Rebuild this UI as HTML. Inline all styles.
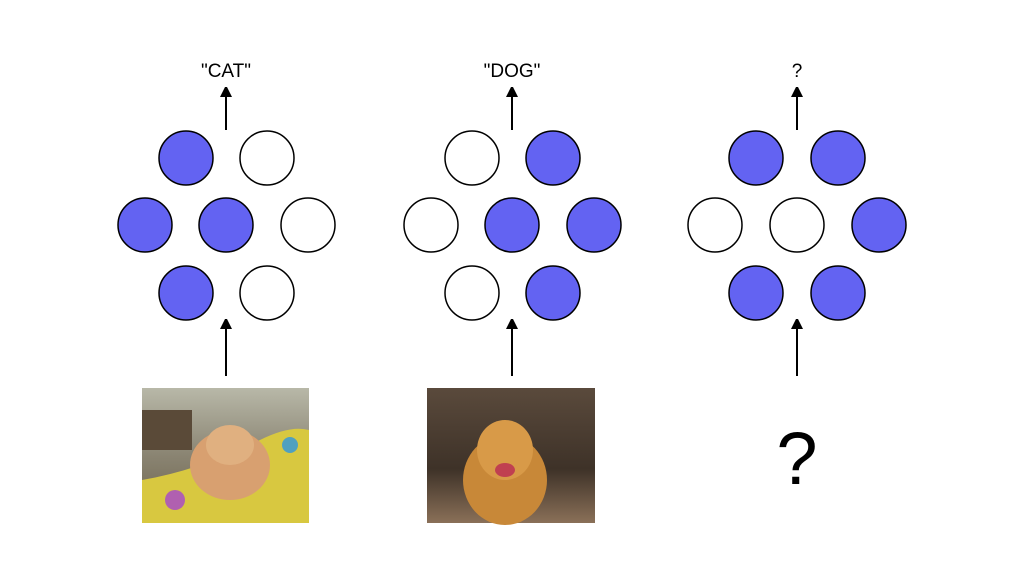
<!DOCTYPE html>
<html><head><style>body{margin:0;background:#fff}</style></head><body>
<svg width="1024" height="576" viewBox="0 0 1024 576" xmlns="http://www.w3.org/2000/svg">
<defs>
<marker id="a" markerWidth="10" markerHeight="12" refX="5" refY="6" orient="auto" markerUnits="userSpaceOnUse"><path d="M0,0 L12,6 L0,12 z" fill="#000"/></marker>
<linearGradient id="catbg" x1="0" y1="0" x2="0" y2="1"><stop offset="0" stop-color="#b8b8a8"/><stop offset="0.5" stop-color="#8a8472"/><stop offset="1" stop-color="#6a6048"/></linearGradient>
<linearGradient id="dogbg" x1="0" y1="0" x2="0" y2="1"><stop offset="0" stop-color="#5a4a3c"/><stop offset="0.6" stop-color="#3e3228"/><stop offset="1" stop-color="#8a7058"/></linearGradient>
</defs>
<g font-family="Liberation Sans, sans-serif" font-size="19" text-anchor="middle" fill="#000">
<text x="226" y="77">"CAT"</text>
<text x="512" y="77">"DOG"</text>
<text x="797" y="77">?</text>
<text x="797" y="484" font-size="74">?</text>
</g>
<g stroke="#000" stroke-width="2" marker-end="url(#a)">
<line x1="226" y1="130" x2="226" y2="92"/>
<line x1="512" y1="130" x2="512" y2="92"/>
<line x1="797" y1="130" x2="797" y2="92"/>
<line x1="226" y1="376" x2="226" y2="324"/>
<line x1="512" y1="376" x2="512" y2="324"/>
<line x1="797" y1="376" x2="797" y2="324"/>
</g>
<g stroke="#000" stroke-width="1.5">
<circle cx="186" cy="158" r="27" fill="#6363f2"/>
<circle cx="267" cy="158" r="27" fill="#fff"/>
<circle cx="145" cy="225" r="27" fill="#6363f2"/>
<circle cx="226" cy="225" r="27" fill="#6363f2"/>
<circle cx="308" cy="225" r="27" fill="#fff"/>
<circle cx="186" cy="293" r="27" fill="#6363f2"/>
<circle cx="267" cy="293" r="27" fill="#fff"/>

<circle cx="472" cy="158" r="27" fill="#fff"/>
<circle cx="553" cy="158" r="27" fill="#6363f2"/>
<circle cx="431" cy="225" r="27" fill="#fff"/>
<circle cx="512" cy="225" r="27" fill="#6363f2"/>
<circle cx="594" cy="225" r="27" fill="#6363f2"/>
<circle cx="472" cy="293" r="27" fill="#fff"/>
<circle cx="553" cy="293" r="27" fill="#6363f2"/>

<circle cx="756" cy="158" r="27" fill="#6363f2"/>
<circle cx="838" cy="158" r="27" fill="#6363f2"/>
<circle cx="715" cy="225" r="27" fill="#fff"/>
<circle cx="797" cy="225" r="27" fill="#fff"/>
<circle cx="879" cy="225" r="27" fill="#6363f2"/>
<circle cx="756" cy="293" r="27" fill="#6363f2"/>
<circle cx="838" cy="293" r="27" fill="#6363f2"/>
</g>
<rect x="142" y="388" width="167" height="135" fill="url(#catbg)"/>
<rect x="142" y="410" width="50" height="40" fill="#5a4a38"/>
<path d="M142,480 Q200,470 260,440 Q290,425 309,430 L309,523 L142,523 z" fill="#d8c840"/>
<ellipse cx="230" cy="465" rx="40" ry="35" fill="#d8a070"/>
<ellipse cx="230" cy="445" rx="24" ry="20" fill="#e0b080"/>
<circle cx="175" cy="500" r="10" fill="#b060b0"/>
<circle cx="290" cy="445" r="8" fill="#50a0c0"/>
<rect x="427" y="388" width="168" height="135" fill="url(#dogbg)"/>
<ellipse cx="505" cy="480" rx="42" ry="45" fill="#c88838"/>
<ellipse cx="505" cy="450" rx="28" ry="30" fill="#d89a48"/>
<ellipse cx="505" cy="470" rx="10" ry="7" fill="#c04050"/>
</svg>
</body></html>
